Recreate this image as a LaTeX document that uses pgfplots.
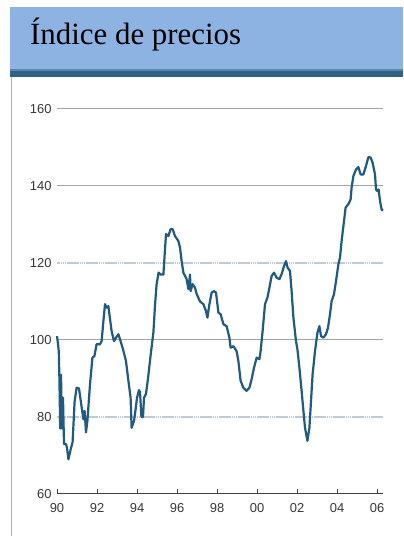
\documentclass[border=0pt]{standalone}
\usepackage{pgfplots}
\pgfplotsset{compat=1.18}
\usepackage{fontspec}
\setmainfont{Liberation Sans}
\newfontfamily\titlefont{Liberation Serif}
\definecolor{banner}{RGB}{141,179,226}
\definecolor{darkbar}{RGB}{47,99,133}
\definecolor{darkbartop}{RGB}{90,135,165}
\definecolor{leftline}{RGB}{160,184,208}
\definecolor{serie}{RGB}{31,90,130}
\definecolor{gridsolid}{RGB}{165,165,165}
\definecolor{griddot}{RGB}{190,202,216}
\definecolor{ticktext}{RGB}{55,55,55}
\begin{document}
\begin{tikzpicture}[x=1bp,y=1bp]
\fill[white] (0,0) rectangle (403,536);
\useasboundingbox (0,0) rectangle (403,536);
\fill[banner] (10,466) rectangle (403,529);
\fill[darkbar] (10,459) rectangle (403,466);
\fill[darkbartop] (10,465) rectangle (403,466.5);
\draw[leftline, line width=1.5bp] (11.5,459) -- (11.5,0);
\node[anchor=base west, inner sep=0pt, font=\titlefont\fontsize{31}{31}\selectfont] at (30,491) {Índice de precios};
\begin{axis}[
  at={(57bp,42bp)}, anchor=south west,
  scale only axis, width=326bp, height=385bp,
  xmin=90, xmax=106.3, ymin=60, ymax=160,
  clip=false,
  axis x line=bottom, axis y line=left,
  x axis line style={-, draw=black!75, line width=1bp},
  y axis line style={draw=none},
  xtick={90,92,...,106},
  xticklabels={90,92,94,96,98,00,02,04,06},
  ytick={60,100,140,160},
  extra y ticks={80,120},
  extra y tick style={grid style={griddot, line width=2bp, dash pattern=on 1.5bp off 0.4bp}},
  ymajorgrids,
  grid style={gridsolid, line width=1bp},
  tick align=inside,
  xtick style={draw=black!75, line width=0.8bp},
  major tick length=5bp,
  ytick style={draw=none},
  /pgf/number format/assume math mode=true,
  tick label style={font=\fontsize{13}{13}\selectfont, text=ticktext},
  yticklabel style={xshift=-2bp},
  xticklabel style={yshift=-6bp},
]
\addplot[serie, line width=2.2bp, line join=round] coordinates {
(90.00,101) (90.05,99) (90.09,97) (90.12,90) (90.16,77) (90.20,91) (90.25,77)
(90.30,85) (90.35,73) (90.45,73) (90.50,72) (90.57,69) (90.68,71.5) (90.78,73.5)
(90.88,84) (90.98,87.6) (91.10,87.4) (91.22,83) (91.32,79.4) (91.38,81.6) (91.45,76)
(91.52,79) (91.65,88.5) (91.77,95.4) (91.87,95.8) (91.98,98.9) (92.15,98.9) (92.23,99.7)
(92.32,104.9) (92.40,109.3) (92.48,108.4) (92.57,108.8) (92.62,106.7) (92.73,102.3)
(92.85,99.7) (92.95,100.6) (93.07,101.5) (93.18,99.7) (93.30,97.6) (93.45,94.5)
(93.57,89.4) (93.68,85) (93.73,77.2) (93.85,79) (93.92,81.6) (94.00,85) (94.10,87)
(94.15,86.5) (94.22,80) (94.30,80) (94.35,85) (94.45,86) (94.55,90) (94.68,96)
(94.82,102) (94.90,109) (94.98,114.5) (95.08,117.5) (95.18,117) (95.32,117) (95.38,122)
(95.45,127.5) (95.57,127) (95.68,128.8) (95.78,128.8) (95.90,127) (96.07,125.7)
(96.15,124) (96.23,120.5) (96.32,117.5) (96.48,115.8) (96.57,113.2) (96.65,117)
(96.68,112.7) (96.78,114.5) (96.90,113.6) (96.98,112) (97.15,110) (97.32,109.3)
(97.45,107.5) (97.52,105.8) (97.62,109.3) (97.73,112.3) (97.85,112.7) (97.95,112.3)
(98.07,107.1) (98.18,106.7) (98.32,104.1) (98.48,103.6) (98.62,100.6) (98.68,98)
(98.82,98.4) (98.98,97.1) (99.07,94.5) (99.18,89.4) (99.32,87.6) (99.48,86.8)
(99.62,87.6) (99.73,89.8) (99.85,92.8) (99.98,95.4) (100.12,95) (100.18,97.1)
(100.28,102.3) (100.40,109.3) (100.52,111) (100.62,113.6) (100.73,116.6) (100.85,117.5)
(100.98,116.2) (101.12,115.8) (101.23,117.1) (101.35,119.2) (101.45,120.5) (101.53,118.8)
(101.65,117.9) (101.73,112.7) (101.82,105.8) (101.95,99.7) (102.02,97.6) (102.12,92.8)
(102.23,86.8) (102.32,81.6) (102.40,77.2) (102.52,73.8) (102.62,77.2) (102.68,82.4)
(102.78,91.1) (102.90,97.1) (103.02,101.9) (103.12,103.6) (103.20,101) (103.32,100.6)
(103.45,101.5) (103.55,103.2) (103.65,106.7) (103.73,110.1) (103.85,111.9) (103.95,115.3)
(104.07,119.7) (104.15,121.4) (104.23,125.7) (104.35,130.9) (104.43,134.4) (104.57,135.3)
(104.68,136.5) (104.73,139.6) (104.82,142.6) (104.95,144.3) (105.07,144.9) (105.18,143)
(105.32,143) (105.45,145.2) (105.57,147.5) (105.68,147.4) (105.78,146.1) (105.90,143)
(105.95,139.1) (106.02,138.7) (106.08,139.1) (106.15,136.1) (106.23,133.9) (106.30,133.6)
};
\end{axis}
\end{tikzpicture}
\end{document}
